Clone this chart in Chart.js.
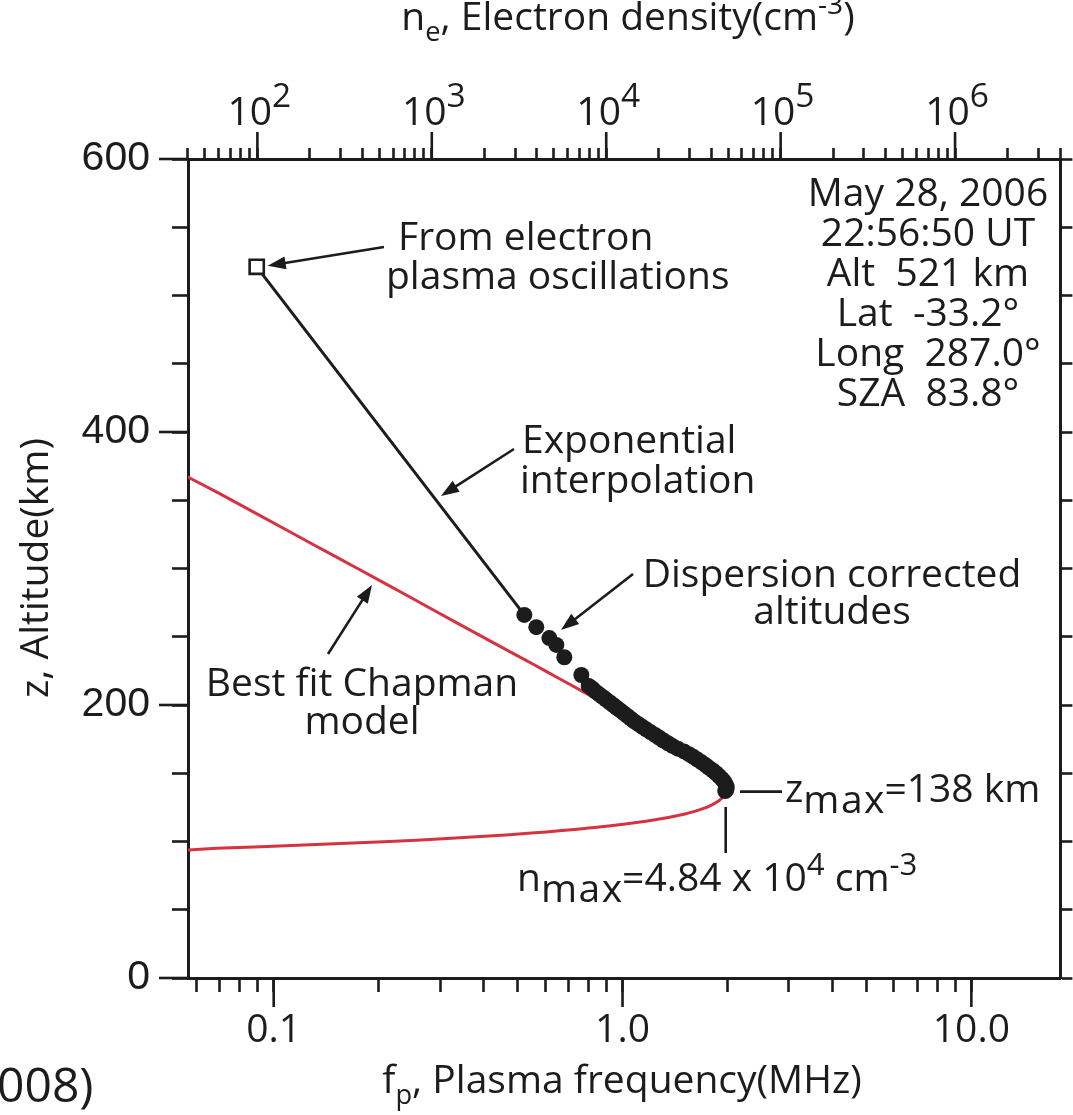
<!DOCTYPE html>
<html><head><meta charset="utf-8">
<script src="https://cdn.jsdelivr.net/npm/chart.js@4.4.0/dist/chart.umd.min.js"></script>
<style>html,body{margin:0;padding:0;background:#fff;overflow:hidden}#wrap{width:1073px;height:1115px;position:relative}</style>
</head><body><div id="wrap"><canvas id="c" width="1073" height="1115"></canvas></div>
<script>
// ---- data ----
// Best-fit Chapman model: plasma frequency (MHz) vs altitude (km)
const chapmanAlt  = [372, 355, 340, 320, 300, 280, 260, 245, 230, 220, 210, 200, 190, 180, 170, 160, 150, 143, 138, 134, 130, 125, 120, 115, 110, 107, 105, 102, 100, 97, 95, 93];
const chapmanFreq = [0.052, 0.0698, 0.0895, 0.1247, 0.174, 0.242, 0.336, 0.431, 0.553, 0.652, 0.768, 0.906, 1.065, 1.247, 1.449, 1.663, 1.858, 1.952, 1.976, 1.957, 1.894, 1.742, 1.50, 1.18, 0.817, 0.604, 0.475, 0.3055, 0.215, 0.1126, 0.0686, 0.050];
// Exponential interpolation (black line)
const interpFreq = [0.0894, 0.523];
const interpAlt  = [521, 266];
// From electron plasma oscillations (open square)
const oscFreq = [0.0894];
const oscAlt  = [521];
// Dispersion corrected altitudes (black dots)
const dotAlt  = [266, 257, 249, 244, 235, 222, 214, 212, 210, 208, 206, 204, 202, 200, 198, 196, 194, 192, 190, 188, 186, 184, 182, 180, 178, 176, 174, 172, 170, 168, 166, 164, 162, 160, 158, 156, 154, 152, 150, 148, 146, 144, 142, 140, 138, 137];
const dotFreq = [0.523, 0.566, 0.617, 0.646, 0.681, 0.762, 0.80, 0.82, 0.835, 0.855, 0.876, 0.897, 0.918, 0.94, 0.962, 0.985, 1.008, 1.032, 1.056, 1.08, 1.11, 1.14, 1.172, 1.205, 1.24, 1.275, 1.31, 1.35, 1.39, 1.44, 1.50, 1.55, 1.595, 1.64, 1.685, 1.73, 1.77, 1.815, 1.855, 1.89, 1.925, 1.955, 1.975, 1.99, 1.985, 1.97];
// axes
const freqMin = 0.0568, freqMax = 18.0;          // MHz
const altMin = 0, altMax = 600;                   // km
const bottomTickValues = [0.06,0.07,0.08,0.09,0.1,0.2,0.3,0.4,0.5,0.6,0.7,0.8,0.9,1,2,3,4,5,6,7,8,9,10];
const bottomMajor = [0.1, 1, 10];
const bottomTickLabels = ['0.1', '1.0', '10.0'];
const topTickValues = [40,50,60,70,80,90,100,200,300,400,500,600,700,800,900,1e3,2e3,3e3,4e3,5e3,6e3,7e3,8e3,9e3,1e4,2e4,3e4,4e4,5e4,6e4,7e4,8e4,9e4,1e5,2e5,3e5,4e5,5e5,6e5,7e5,8e5,9e5,1e6,2e6,3e6,4e6];
const topMajor = [1e2, 1e3, 1e4, 1e5, 1e6];
const topTickExponents = ['2','3','4','5','6'];
const altTickValues = [0,50,100,150,200,250,300,350,400,450,500,550,600];
const altMajor = [0, 200, 400, 600];
const altTickLabels = ['0','200','400','600'];

// f_p (MHz) = 8.98e-3 * sqrt(n_e [cm^-3])
const nFromF = f => Math.pow(f / 8.98e-3, 2);

const FONT = '"Open Sans", "DejaVu Sans", sans-serif';
const INK = '#1c1c1c';
const RED = '#d6323f';
const FS = 39;
const MINOR = 14, MAJOR = 29;

function setTicks(vals) { return function(scale){ scale.ticks = vals.map(v => ({value: v})); }; }

// rich text: parts = [[text, kind, letterSpacing]] kind: 'n' | 'sub' | 'sup' | 'low'
function partStyle(k, size, o) {
  if (k === 'sub') return {s: size * 0.7, dy: size * 0.27};
  if (k === 'sup') return {s: size * (o.supScale || 0.72), dy: -size * (o.supRaise || 0.42)};
  if (k === 'low') return {s: size, dy: size * 0.29};
  return {s: size, dy: 0};
}
function rich(ctx, x, y, parts, o) {
  const size = o.size || FS, align = o.align || 'left';
  let w = 0;
  for (const [t, k, sp] of parts) {
    const st = partStyle(k, size, o);
    ctx.font = st.s + 'px ' + FONT;
    w += ctx.measureText(t).width + (sp || 0) * Math.max(0, t.length - 1);
  }
  let cx = align === 'center' ? x - w / 2 : (align === 'right' ? x - w : x);
  ctx.save();
  ctx.fillStyle = o.color || INK;
  ctx.textBaseline = 'alphabetic';
  ctx.textAlign = 'left';
  for (const [t, k, sp] of parts) {
    const st = partStyle(k, size, o);
    ctx.font = st.s + 'px ' + FONT;
    if (sp) {
      for (const ch of t) { ctx.fillText(ch, cx, y + st.dy); cx += ctx.measureText(ch).width + sp; }
      cx -= sp;
    } else {
      ctx.fillText(t, cx, y + st.dy); cx += ctx.measureText(t).width;
    }
  }
  ctx.restore();
}
function arrow(ctx, x1, y1, x2, y2) {
  const a = Math.atan2(y2 - y1, x2 - x1), L = 18, W = 6.5;
  ctx.save();
  ctx.strokeStyle = INK; ctx.fillStyle = INK; ctx.lineWidth = 2.6;
  ctx.beginPath(); ctx.moveTo(x1, y1);
  ctx.lineTo(x2 - Math.cos(a) * L * 0.8, y2 - Math.sin(a) * L * 0.8); ctx.stroke();
  ctx.beginPath(); ctx.moveTo(x2, y2);
  ctx.lineTo(x2 - Math.cos(a) * L + Math.sin(a) * W, y2 - Math.sin(a) * L - Math.cos(a) * W);
  ctx.lineTo(x2 - Math.cos(a) * L - Math.sin(a) * W, y2 - Math.sin(a) * L + Math.cos(a) * W);
  ctx.closePath(); ctx.fill();
  ctx.restore();
}
function seg(ctx, x1, y1, x2, y2, w) {
  ctx.save(); ctx.strokeStyle = INK; ctx.lineWidth = w || 2.6;
  ctx.beginPath(); ctx.moveTo(x1, y1); ctx.lineTo(x2, y2); ctx.stroke(); ctx.restore();
}

const decor = {
  id: 'decor',
  afterDraw(chart) {
    const ctx = chart.ctx, sx = chart.scales.x, st = chart.scales.x2, sy = chart.scales.y;
    const ca = chart.chartArea;
    // longer major ticks
    for (const v of bottomMajor) { const p = sx.getPixelForValue(v); seg(ctx, p, ca.bottom, p, ca.bottom + MAJOR); }
    for (const v of topMajor) { const p = st.getPixelForValue(v); seg(ctx, p, ca.top, p, ca.top - MAJOR + 2); }
    for (const v of altMajor) { const p = sy.getPixelForValue(v); seg(ctx, ca.left, p, ca.left - MAJOR, p); }
    // top tick labels 10^k
    topMajor.forEach((v, i) => {
      rich(ctx, st.getPixelForValue(v) + 2, 125, [['10', 'n'], [topTickExponents[i], 'sup']], {align: 'center', supScale: 0.86, supRaise: 0.46});
    });
    // axis titles
    rich(ctx, 628, 30, [['n', 'n'], ['e', 'sub'], [', Electron density(cm', 'n'], ['-3', 'sup'], [')', 'n']], {align: 'center'});
    rich(ctx, 622, 1093, [['f', 'n'], ['p', 'sub'], [', Plasma frequency(MHz)', 'n']], {align: 'center'});
    ctx.save(); ctx.translate(48, 568); ctx.rotate(-Math.PI / 2);
    rich(ctx, 0, 0, [['z, Altitude(km)', 'n']], {align: 'center'});
    ctx.restore();
    rich(ctx, -3, 1102, [['008)', 'n']], {size: 48});

    // info block
    const info = ['May 28, 2006', '22:56:50 UT', 'Alt  521 km', 'Lat  -33.2\u00B0', 'Long  287.0\u00B0', 'SZA  83.8\u00B0'];
    info.forEach((t, i) => rich(ctx, 928, 206 + i * 40, [[t, 'n']], {align: 'center'}));

    // annotations
    const oscX = sx.getPixelForValue(oscFreq[0]), oscY = sy.getPixelForValue(oscAlt[0]);
    rich(ctx, 398, 250, [['From electron', 'n']], {});
    rich(ctx, 386, 289, [['plasma oscillations', 'n']], {});
    arrow(ctx, 384, 247, oscX + 11, oscY - 1);

    rich(ctx, 522, 453, [['Exponential', 'n']], {});
    rich(ctx, 520, 493, [['interpolation', 'n']], {});
    arrow(ctx, 514, 449, 441, 496);

    rich(ctx, 832, 587, [['Dispersion corrected', 'n']], {align: 'center'});
    rich(ctx, 832, 624, [['altitudes', 'n']], {align: 'center'});
    arrow(ctx, 633, 574, 561, 630);

    rich(ctx, 362, 696, [['Best fit Chapman', 'n']], {align: 'center'});
    rich(ctx, 362, 734, [['model', 'n']], {align: 'center'});
    arrow(ctx, 328, 654, 372, 585);

    // z_max
    const pkY = sy.getPixelForValue(138);
    seg(ctx, 740, pkY + 2, 782, pkY + 2, 2.6);
    rich(ctx, 785, 802, [['z', 'n'], ['max', 'low', 1.5], ['=138 km', 'n']], {});
    // n_max
    const pkX = sx.getPixelForValue(1.976);
    seg(ctx, pkX, 807, pkX, 853, 2.6);
    rich(ctx, 517, 891, [['n', 'n'], ['max', 'low', 1.5], ['=4.84 x 10', 'n'], ['4', 'sup'], [' cm', 'n'], ['-3', 'sup']], {supScale: 0.8});
  }
};

const tickGrid = (len) => ({display: true, drawOnChartArea: false, drawTicks: true, tickLength: len, tickColor: INK, tickWidth: 2.6, color: INK});

new Chart(document.getElementById('c'), {
  type: 'scatter',
  data: {
    datasets: [
      { label: 'osc', data: oscFreq.map((f, i) => ({x: f, y: oscAlt[i]})), pointStyle: 'rect', pointRadius: 10, pointBackgroundColor: '#fff', pointBorderColor: INK, pointBorderWidth: 2.6, order: 0 },
      { label: 'dots', data: dotFreq.map((f, i) => ({x: f, y: dotAlt[i]})), pointRadius: 8, pointBackgroundColor: INK, pointBorderWidth: 0, order: 1 },
      { label: 'interp', data: interpFreq.map((f, i) => ({x: f, y: interpAlt[i]})), showLine: true, borderColor: INK, borderWidth: 3, pointRadius: 0, order: 2 },
      { label: 'chapman', data: chapmanFreq.map((f, i) => ({x: f, y: chapmanAlt[i]})), showLine: true, borderColor: RED, borderWidth: 3, pointRadius: 0, tension: 0.25, order: 3 }
    ]
  },
  options: {
    responsive: false, animation: false, devicePixelRatio: 1,
    layout: {padding: 0},
    plugins: {legend: {display: false}, tooltip: {enabled: false}},
    scales: {
      x: { type: 'logarithmic', position: 'bottom', min: freqMin, max: freqMax,
        afterBuildTicks: setTicks(bottomTickValues),
        afterFit: s => { s.height = 137; },
        grid: tickGrid(MINOR), border: {display: true, color: INK, width: 3},
        ticks: { autoSkip: false, maxRotation: 0, padding: 15, color: INK, font: {family: FONT, size: FS},
          callback: v => { const i = bottomMajor.indexOf(v); return i >= 0 ? bottomTickLabels[i] : ''; } } },
      x2: { type: 'logarithmic', position: 'top', min: nFromF(freqMin), max: nFromF(freqMax),
        afterBuildTicks: setTicks(topTickValues),
        afterFit: s => { s.height = 159; },
        grid: tickGrid(MINOR - 3), border: {display: true, color: INK, width: 3},
        ticks: { display: true, autoSkip: false, maxRotation: 0, callback: () => '' } },
      y: { type: 'linear', position: 'left', min: altMin, max: altMax,
        afterBuildTicks: setTicks(altTickValues),
        afterFit: s => { s.width = 188; },
        grid: tickGrid(MINOR + 2), border: {display: true, color: INK, width: 3},
        ticks: { autoSkip: false, padding: 22, color: INK, font: {family: '"Liberation Sans", Arial, sans-serif', size: 41},
          callback: v => { const i = altMajor.indexOf(v); return i >= 0 ? altTickLabels[i] : ''; } } },
      y2: { type: 'linear', position: 'right', min: altMin, max: altMax,
        afterBuildTicks: setTicks(altTickValues),
        afterFit: s => { s.width = 12; },
        grid: tickGrid(12), border: {display: true, color: INK, width: 3},
        ticks: { display: true, autoSkip: false, callback: () => '' } }
    }
  },
  plugins: [decor]
});
</script></body></html>
